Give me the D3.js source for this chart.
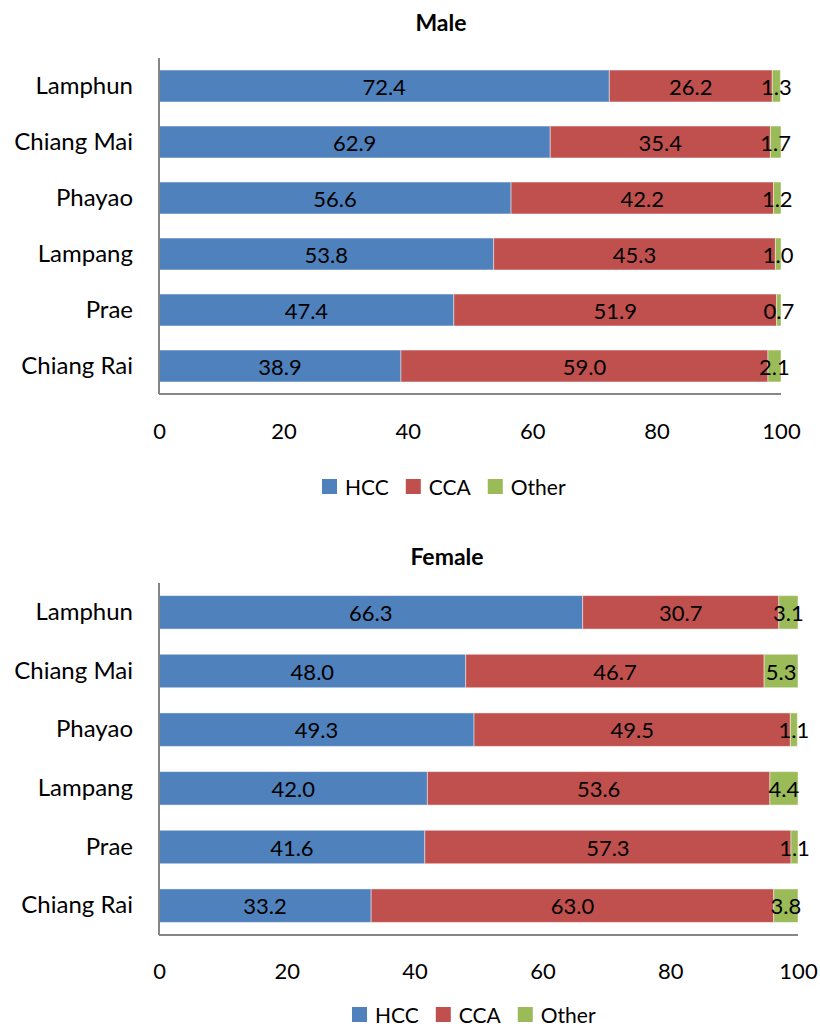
<!DOCTYPE html>
<html>
<head>
<meta charset="utf-8">
<script src="https://cdn.jsdelivr.net/npm/d3@7"></script>
<style>
  html, body { margin: 0; padding: 0; background: #fff; }
  svg { display: block; font-family: Lato, "Open Sans", sans-serif; }
</style>
</head>
<body>
<svg id="chart" width="820" height="1026"></svg>
<script>
// Provinces, listed top to bottom
const provinces = ["Lamphun", "Chiang Mai", "Phayao", "Lampang", "Prae", "Chiang Rai"];
const seriesNames = ["HCC", "CCA", "Other"];
const seriesColors = ["#4F81BD", "#C0504D", "#9BBB59"];
const xTicks = [0, 20, 40, 60, 80, 100];

// Percentage of liver cancer cases by type, male
const maleHCC   = [72.4, 62.9, 56.6, 53.8, 47.4, 38.9];
const maleCCA   = [26.2, 35.4, 42.2, 45.3, 51.9, 59.0];
const maleOther = [1.3, 1.7, 1.2, 1.0, 0.7, 2.1];

// Percentage of liver cancer cases by type, female
const femaleHCC   = [66.3, 48.0, 49.3, 42.0, 41.6, 33.2];
const femaleCCA   = [30.7, 46.7, 49.5, 53.6, 57.3, 63.0];
const femaleOther = [3.1, 5.3, 1.1, 4.4, 1.1, 3.8];

const svg = d3.select("#chart");

function drawPanel(cfg) {
  const { title, series, left, right, top, bottom, titleX, titleY, tickY, legendY, legendX } = cfg;
  const g = svg.append("g");

  const x = d3.scaleLinear().domain([0, 100]).range([left, right]);
  const y = d3.scaleBand().domain(provinces).range([top, bottom])
    .paddingInner(0.43).paddingOuter(0.215);

  // Title
  g.append("text")
    .attr("x", titleX)
    .attr("y", titleY)
    .attr("text-anchor", "middle")
    .attr("dominant-baseline", "central")
    .attr("font-weight", "bold")
    .attr("font-size", 23)
    .text(title);

  // Stacked rows
  const rows = provinces.map((p, i) => {
    let acc = 0;
    return series.map((s, k) => {
      const seg = { province: p, key: seriesNames[k], value: s[i], x0: acc, x1: acc + s[i] };
      acc += s[i];
      return seg;
    });
  });

  const segs = rows.flat();
  g.append("g").selectAll("rect").data(segs).join("rect")
    .attr("x", d => x(d.x0))
    .attr("y", d => y(d.province))
    .attr("width", d => Math.max(0, x(Math.min(100, d.x1)) - x(d.x0)))
    .attr("height", y.bandwidth())
    .attr("fill", d => seriesColors[seriesNames.indexOf(d.key)])
    .attr("stroke", "rgba(255,255,255,0.45)")
    .attr("stroke-width", 1);

  // Value labels, centred on each segment
  g.append("g").selectAll("text").data(segs).join("text")
    .attr("x", d => (x(d.x0) + x(Math.min(100, d.x1))) / 2)
    .attr("y", d => y(d.province) + y.bandwidth() / 2)
    .attr("text-anchor", "middle")
    .attr("dominant-baseline", "central")
    .attr("font-size", 22)
    .attr("fill", "#000")
    .text(d => d.value.toFixed(1));

  // Category axis
  const yAxis = g.append("g")
    .attr("transform", `translate(${left},0)`)
    .call(d3.axisLeft(y).tickSize(0).tickPadding(26));
  yAxis.select(".domain").attr("stroke", "#868686").attr("stroke-width", 2)
    .attr("d", `M0,${top}V${bottom}`);
  yAxis.selectAll("text").attr("font-size", 24).attr("fill", "#000")
    .attr("font-family", "Lato, sans-serif");

  // Value axis
  const xAxis = g.append("g")
    .attr("transform", `translate(0,${bottom})`)
    .call(d3.axisBottom(x).tickValues(xTicks).tickSize(0).tickPadding(0).tickFormat(d3.format("d")));
  xAxis.select(".domain").attr("stroke", "#868686").attr("stroke-width", 2)
    .attr("d", `M${left},0H${right}`);
  xAxis.selectAll("text")
    .attr("font-size", 22).attr("fill", "#000")
    .attr("font-family", "Lato, sans-serif")
    .attr("dy", null)
    .attr("y", tickY - bottom)
    .attr("dominant-baseline", "central");

  // Legend
  const lg = g.append("g").attr("transform", `translate(${legendX},${legendY})`);
  let cx = 0;
  seriesNames.forEach((name, k) => {
    lg.append("rect").attr("x", cx).attr("y", -7).attr("width", 15).attr("height", 15)
      .attr("fill", seriesColors[k]);
    const t = lg.append("text").attr("x", cx + 23).attr("y", 0)
      .attr("dominant-baseline", "central").attr("font-size", 21).text(name);
    cx += 23 + t.node().getComputedTextLength() + 17;
  });
}

drawPanel({
  title: "Male",
  series: [maleHCC, maleCCA, maleOther],
  left: 159, right: 781, top: 58, bottom: 394,
  titleX: 441, titleY: 22, tickY: 430, legendY: 486, legendX: 322
});

drawPanel({
  title: "Female",
  series: [femaleHCC, femaleCCA, femaleOther],
  left: 159, right: 798, top: 583, bottom: 935,
  titleX: 447, titleY: 556, tickY: 970, legendY: 1014, legendX: 352
});
</script>
</body>
</html>
